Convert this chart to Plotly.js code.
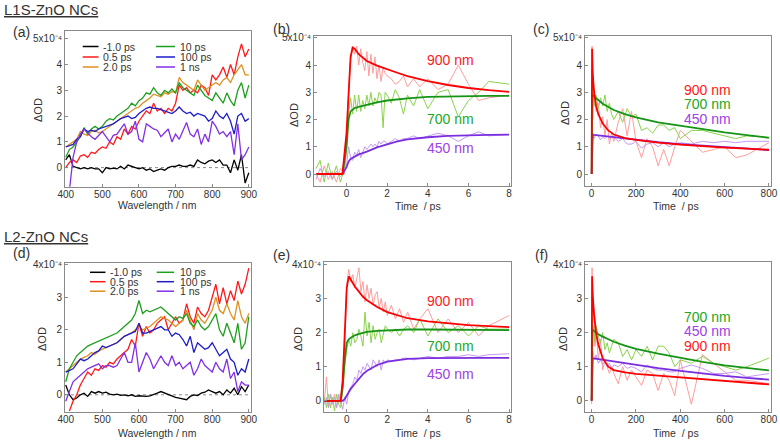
<!DOCTYPE html>
<html><head><meta charset="utf-8">
<script src="https://cdn.plot.ly/plotly-3.0.1.min.js"></script>
<style>html,body{margin:0;padding:0;background:#fff}#chart{width:780px;height:440px}</style>
</head><body><div id="chart"></div>
<script>
// ---------- DATA (ΔOD in units of 1e-4) ----------
const wavelengths = [400,410,420,430,440,450,460,470,480,490,500,510,520,530,540,550,560,570,580,590,600,610,620,630,640,650,660,670,680,690,700,710,720,730,740,750,760,770,780,790,800,810,820,830,840,850,860,870,880,890,900];
const delayLabels = ["-1.0 ps","0.5 ps","2.0 ps","10 ps","100 ps","1 ns"];

// (a) L1S-ZnO spectra
const a_m1ps  = [0.3,0.5,0.05,0.0,-0.05,0.0,-0.05,0.0,-0.05,-0.05,-0.2,0.0,-0.05,-0.02,-0.05,0.05,-0.05,0.1,0.05,0.0,-0.05,0.0,-0.1,-0.05,-0.15,-0.1,-0.05,-0.1,0.0,0.05,0.05,0.1,0.05,0.05,0.1,0.05,0.3,0.2,0.15,0.25,0.3,0.2,0.3,0.1,0.1,-0.2,0.3,-0.1,0.5,-0.6,-0.2];
const a_05ps  = [0.0,0.2,0.3,0.2,0.45,0.5,0.4,0.6,0.55,0.7,0.8,0.75,1.0,0.9,1.2,1.1,1.5,1.3,1.6,1.5,1.8,2.0,2.2,2.1,2.5,2.2,2.3,2.1,2.3,2.2,2.5,3.2,3.0,3.1,2.9,3.0,2.9,3.2,3.1,2.8,3.6,3.4,3.6,3.9,3.5,4.0,3.6,4.3,4.8,4.3,4.6];
const a_2ps   = [0.8,0.9,1.0,1.1,1.4,1.3,1.25,1.4,1.45,1.35,1.4,1.5,1.6,1.7,1.8,1.9,2.0,2.1,2.2,2.3,2.35,2.5,2.6,2.7,2.85,2.8,2.75,2.9,2.85,2.95,2.9,3.5,3.3,3.2,3.1,3.0,3.4,3.2,3.0,3.1,3.2,3.3,3.2,3.4,3.5,3.3,3.6,3.8,4.0,3.6,3.6];
const a_10ps  = [0.4,0.7,0.8,1.0,1.2,1.55,1.3,1.5,1.6,1.5,1.6,1.8,1.9,1.85,2.0,2.1,2.2,2.3,2.5,2.4,2.6,2.7,2.9,2.85,3.1,2.9,2.8,3.0,2.9,3.05,2.9,3.3,3.1,3.0,2.9,2.8,3.2,3.0,2.8,2.7,2.6,2.9,2.7,2.5,2.9,2.6,2.4,3.0,3.3,2.7,3.2];
const a_100ps = [0.8,0.85,0.9,1.1,1.2,1.5,1.4,1.45,1.4,1.5,1.55,1.6,1.65,1.7,1.8,1.9,1.95,2.0,1.9,1.95,2.1,2.2,2.3,2.35,2.3,2.3,2.25,2.2,2.15,2.1,2.2,2.35,2.2,2.1,2.15,2.0,2.1,2.05,2.0,1.8,1.9,2.2,2.0,1.9,2.1,1.8,1.3,2.0,2.1,1.8,1.9];
const a_1ns   = [null,-0.9,0.4,1.0,1.3,1.5,1.35,1.2,1.1,1.25,1.4,1.2,1.0,1.25,1.3,1.5,1.7,1.3,1.4,1.8,1.1,1.0,1.7,1.6,1.5,1.45,1.2,1.35,1.5,1.0,1.3,1.1,1.4,1.75,1.3,1.2,1.5,0.9,1.3,1.0,1.8,1.6,1.3,1.4,1.2,1.4,0.5,1.7,0.3,0.5,0.8];

// (d) L2-ZnO spectra
const d_m1ps  = [0.3,0.0,-0.15,-0.1,0.0,0.05,-0.05,0.1,0.05,0.1,0.05,0.08,0.02,0.0,0.02,-0.02,0.0,-0.03,0.0,-0.05,-0.03,-0.05,-0.05,-0.03,0.0,0.05,0.1,0.05,0.0,-0.05,-0.08,-0.1,-0.12,-0.15,-0.05,0.0,-0.02,0.05,0.08,0.15,0.1,0.05,0.1,0.0,0.15,0.05,0.2,0.0,0.25,0.1,0.3];
const d_05ps  = [null,-0.5,-0.2,0.0,0.3,0.5,0.7,0.6,0.8,0.75,0.9,0.85,1.0,0.95,1.1,1.2,1.3,1.4,1.7,1.5,2.2,1.8,2.1,1.9,2.0,2.2,2.3,2.4,2.0,2.2,2.4,2.2,2.3,2.8,2.4,2.2,2.7,2.5,2.4,2.6,3.0,3.4,2.8,3.3,2.8,3.2,2.9,3.5,3.1,3.4,3.9];
const d_2ps   = [0.7,0.8,0.9,1.0,1.1,1.15,1.2,1.3,1.25,1.35,1.4,1.45,1.5,1.55,1.6,1.7,1.8,1.85,1.9,2.0,2.1,2.0,2.05,2.1,2.2,2.3,2.4,2.35,2.3,2.2,2.1,2.2,2.3,2.6,2.3,2.0,2.5,2.3,2.2,2.4,2.6,3.0,2.6,2.5,2.8,2.5,2.3,2.9,2.4,2.2,2.5];
const d_10ps  = [0.4,0.8,1.0,1.2,1.3,1.4,1.5,1.55,1.6,1.65,1.7,1.75,1.8,1.85,1.9,2.0,2.1,2.2,2.3,2.5,2.9,2.5,2.6,2.55,2.6,2.65,2.7,2.6,2.5,2.4,2.3,2.4,2.35,2.5,2.2,2.1,2.3,2.1,2.0,2.1,2.3,2.5,2.0,1.8,2.2,1.9,1.6,2.2,1.4,1.6,2.4];
const d_100ps = [0.7,0.75,0.8,0.95,1.1,1.05,1.1,1.2,1.3,1.35,1.5,1.45,1.5,1.55,1.6,1.7,1.8,1.85,1.9,1.95,2.2,1.9,1.9,1.95,2.0,2.05,2.1,2.0,2.0,1.8,1.9,1.85,1.7,1.5,1.8,1.3,1.6,1.5,1.4,1.45,1.6,1.4,1.2,1.3,1.4,1.1,1.0,0.6,0.8,0.7,1.1];
const d_1ns   = [-0.2,0.1,0.4,0.5,0.6,0.7,0.8,0.85,0.9,0.95,0.8,0.9,0.9,0.85,0.9,1.1,1.3,1.0,1.0,1.6,0.7,1.0,1.3,1.1,0.8,1.0,1.2,1.0,0.9,1.2,0.9,1.0,0.8,0.9,1.0,0.6,0.8,1.1,0.9,0.8,0.7,1.0,0.8,0.7,1.1,0.5,0.7,0.1,0.4,0.3,0.3];

// (b) L1S short-time kinetics
const b_time = [-1.5,-1.3,-1.1,-0.9,-0.7,-0.5,-0.3,-0.1,0.0,0.1,0.2,0.3,0.4,0.5,0.6,0.7,0.8,0.9,1.0,1.1,1.2,1.3,1.4,1.5,1.6,1.7,1.8,1.9,2.0,2.2,2.4,2.6,2.8,3.0,3.3,3.6,4.0,4.5,5.0,5.5,6.0,6.5,7.0,8.0];
const b_900 = [0,-0.3,0.3,-0.2,0.1,-0.3,0.2,0.0,1.0,3.0,4.2,4.7,4.4,4.7,4.0,4.6,4.1,3.8,4.5,3.6,4.4,3.7,4.3,3.5,4.0,3.4,3.9,3.7,3.6,3.5,3.3,3.4,3.6,3.2,3.5,3.2,3.5,3.1,3.3,4.0,3.3,2.7,2.8,2.9];
const b_700 = [0.2,0.5,-0.3,0.4,-0.2,0.3,-0.3,0.2,1.0,2.2,2.8,2.2,2.9,2.3,2.9,2.3,2.7,2.4,2.9,2.5,3.0,2.5,2.8,2.6,3.0,2.9,1.7,3.0,2.9,2.6,3.1,2.8,2.2,2.9,2.5,3.1,2.4,3.0,3.1,2.1,2.7,3.0,3.4,3.3];
const b_450 = [-0.2,0.2,-0.1,0.1,-0.2,0.1,-0.1,0.1,0.3,1.0,0.6,0.5,0.8,0.7,0.9,0.6,0.8,1.0,0.9,1.0,1.1,1.0,1.1,1.0,1.2,1.1,1.2,1.2,1.1,1.2,1.3,1.2,1.3,1.3,1.4,1.3,1.4,1.5,1.4,1.2,1.4,1.55,1.4,1.45];
const b_fitTime = [-1.5,-0.5,-0.2,0,0.1,0.2,0.3,0.4,0.6,0.8,1.0,1.5,2,2.5,3,4,5,6,7,8];
const b_fit900 = [0,0,0,1.5,3.2,4.3,4.64,4.6,4.4,4.28,4.15,3.98,3.84,3.72,3.6,3.41,3.27,3.16,3.08,3.02];
const b_fit700 = [0,0,0,1.0,2.0,2.3,2.38,2.42,2.47,2.51,2.55,2.63,2.7,2.75,2.78,2.83,2.85,2.86,2.87,2.87];
const b_fit450 = [0,0,0,0.25,0.45,0.55,0.6,0.65,0.72,0.77,0.82,0.98,1.1,1.2,1.27,1.35,1.4,1.43,1.44,1.45];

// (c) L1S long-time kinetics
const c_time = [0,2,5,10,15,20,30,40,50,60,70,80,90,100,120,140,160,180,200,225,250,275,300,325,350,375,400,450,500,550,600,650,700,800];
const c_900 = [0,4.7,3.2,2.5,2.9,2.3,2.6,1.7,2.1,1.4,2.0,1.1,1.5,1.2,1.9,2.4,1.4,2.3,1.2,0.6,1.3,1.0,0.3,0.9,0.3,1.0,1.6,1.2,0.8,0.9,1.0,0.6,0.7,1.15];
const c_700 = [0,3.4,2.0,3.2,2.5,2.9,2.4,2.8,2.5,2.9,2.3,2.6,2.2,2.0,2.3,1.9,2.4,2.1,2.2,1.6,1.7,1.5,1.8,1.8,1.6,1.7,1.3,1.6,1.6,1.5,1.4,1.3,1.4,1.35];
const c_450 = [0,1.4,1.5,1.3,1.4,1.45,1.4,1.25,1.35,1.3,1.4,1.3,1.35,1.35,1.2,1.3,1.1,1.1,1.2,0.95,1.1,1.15,1.0,1.15,1.0,1.1,1.15,1.1,1.2,1.15,1.2,1.15,1.2,1.2];
const c_fitTime = [0,2,5,10,20,30,50,75,100,150,200,300,400,500,600,700,800];
const c_fit900 = [0,4.6,3.7,3.1,2.5,2.2,1.85,1.6,1.45,1.32,1.25,1.15,1.08,1.02,0.97,0.93,0.89];
const c_fit700 = [0,2.95,2.9,2.85,2.8,2.72,2.58,2.45,2.35,2.2,2.08,1.9,1.77,1.65,1.53,1.43,1.33];
const c_fit450 = [0,1.45,1.45,1.44,1.43,1.42,1.40,1.37,1.35,1.3,1.25,1.17,1.1,1.04,0.98,0.93,0.88];

// (e) L2 short-time kinetics
const e_time = [-1.1,-1.0,-0.9,-0.8,-0.7,-0.6,-0.5,-0.4,-0.3,-0.2,-0.1,0.0,0.1,0.2,0.3,0.4,0.5,0.6,0.7,0.8,0.9,1.0,1.1,1.2,1.3,1.4,1.5,1.6,1.7,1.8,1.9,2.0,2.2,2.4,2.6,2.8,3.0,3.3,3.6,4.0,4.5,5.0,5.5,6.0,6.5,7.0,8.0];
const e_900 = [0.0,0.7,-0.2,0.2,-0.1,0.2,-0.2,0.1,-0.1,0.4,1.5,3.4,3.85,3.5,3.7,3.3,3.6,3.9,3.2,3.5,2.9,3.4,3.0,3.3,2.8,3.1,3.2,2.7,3.0,2.6,2.9,2.5,2.8,2.4,2.7,2.3,2.6,2.1,2.4,2.7,2.0,2.4,2.0,2.3,1.9,2.2,2.5];
const e_700 = [0.1,-0.2,0.2,-0.2,0.1,-0.3,0.2,-0.1,-0.2,0.3,1.0,1.5,1.8,1.6,2.0,1.7,1.8,2.1,1.9,1.6,2.6,1.9,2.3,1.7,2.2,1.8,2.0,2.1,1.7,2.0,2.2,2.1,2.0,2.1,1.9,2.1,2.2,2.0,2.4,1.9,2.4,2.0,2.2,1.9,2.2,2.1,2.1];
const e_450 = [-0.1,0.1,-0.2,0.2,-0.1,0.1,-0.2,0.2,0.0,-0.25,0.1,-0.1,0.3,0.4,0.5,0.7,0.6,0.9,0.8,1.0,0.9,1.1,1.0,0.9,1.2,1.1,1.0,1.2,0.9,1.2,1.1,1.2,1.15,1.2,1.2,1.25,1.25,1.2,1.25,1.3,1.25,1.3,1.3,1.35,1.3,1.35,1.38];
const e_fitTime = [-1.1,-0.5,-0.3,-0.2,-0.1,0,0.1,0.2,0.4,0.6,0.8,1.0,1.5,2,2.5,3,4,5,6,7,8];
const e_fit900 = [0,0,0,0.6,2.0,3.3,3.65,3.55,3.35,3.2,3.05,2.95,2.75,2.6,2.5,2.42,2.33,2.27,2.22,2.19,2.16];
const e_fit700 = [0,0,0,0.4,1.2,1.7,1.8,1.85,1.92,1.96,2.0,2.02,2.05,2.07,2.08,2.09,2.09,2.09,2.09,2.08,2.07];
const e_fit450 = [0,0,0,0,0.05,0.15,0.25,0.35,0.5,0.65,0.78,0.88,1.05,1.15,1.2,1.23,1.25,1.26,1.26,1.26,1.26];

// (f) L2 long-time kinetics
const f_time = [0,2,5,10,15,20,30,40,50,60,70,80,90,100,120,140,160,180,200,225,250,275,300,325,350,375,400,450,500,550,600,650,700,800];
const f_900 = [-0.1,3.9,2.3,2.7,1.6,2.1,1.2,1.8,0.9,1.2,1.0,0.8,1.0,0.8,0.5,1.0,0.6,0.9,0.7,0.45,0.9,0.8,0.3,0.8,0.6,0.15,1.2,-0.1,1.35,1.1,0.85,0.6,0.6,0.5];
const f_700 = [0,2.5,1.6,2.2,1.7,2.2,1.9,1.7,2.0,1.5,1.7,1.4,1.6,1.8,1.7,1.3,1.5,1.2,1.5,1.3,1.6,1.2,1.6,1.6,1.4,1.0,1.2,1.1,1.3,1.1,1.0,0.9,1.0,1.25];
const f_450 = [0,1.2,1.45,1.3,1.2,1.35,1.1,1.2,1.05,1.15,1.0,1.1,0.95,1.05,1.0,1.1,0.95,1.0,0.95,0.85,1.05,0.95,0.9,0.9,0.85,0.85,0.95,1.05,0.95,0.8,0.8,0.85,0.7,0.8];
const f_fitTime = [0,2,5,10,20,30,50,75,100,150,200,300,400,500,600,700,800];
const f_fit900 = [0,3.65,3.1,2.6,2.0,1.65,1.25,1.0,0.9,0.83,0.79,0.74,0.69,0.64,0.58,0.53,0.48];
const f_fit700 = [0,2.1,2.08,2.05,2.0,1.95,1.88,1.8,1.73,1.62,1.52,1.38,1.25,1.14,1.04,0.96,0.89];
const f_fit450 = [0,1.25,1.25,1.24,1.23,1.22,1.2,1.17,1.15,1.1,1.05,0.96,0.88,0.8,0.73,0.67,0.62];

const probeLabels = ["900 nm","700 nm","450 nm"];
const yTicks5 = [0,1,2,3,4,5], yTickText5 = ["0","1","2","3","4","5x10⁻⁴"];
const yTicks4 = [0,1,2,3,4],   yTickText4 = ["0","1","2","3","4x10⁻⁴"];
const wlTicks = [400,500,600,700,800,900];
const psTicks = [0,2,4,6,8];
const longTicks = [0,200,400,600,800];

// ---------- STYLE ----------
const FONT = "'Liberation Sans', Arial, sans-serif";
const specColors = ["#000000","#ff1a1a","#de9024","#1f9f1f","#1c1cc8","#8230e6"];
const rawColors = {r:"#ff9c9c", g:"#8ad34c", p:"#c49af2"};
const fitColors = {r:"#ff0000", g:"#169416", p:"#7a2ee0"};
const lblColors = {r:"#ff1a1a", g:"#22a822", p:"#a040e6"};

const traces = [];
function line(x, y, color, width, ax, name) {
  traces.push({type:"scatter", mode:"lines", x:x, y:y, name:name||"", showlegend:false,
    line:{color:color, width:width}, xaxis:"x"+(ax===1?"":ax), yaxis:"y"+(ax===1?"":ax),
    connectgaps:false, hoverinfo:"skip"});
}
[a_m1ps,a_05ps,a_2ps,a_10ps,a_100ps,a_1ns].forEach((s,i)=>line(wavelengths,s,specColors[i],1.3,1,delayLabels[i]));
[d_m1ps,d_05ps,d_2ps,d_10ps,d_100ps,d_1ns].forEach((s,i)=>line(wavelengths,s,specColors[i],1.3,4,delayLabels[i]));
function kin(ax, t, r, g, p, tf, fr, fg, fp) {
  line(t, r, rawColors.r, 1, ax, "900 nm data");
  line(t, g, rawColors.g, 1, ax, "700 nm data");
  line(t, p, rawColors.p, 1, ax, "450 nm data");
  line(tf, fp, fitColors.p, 1.8, ax, "450 nm fit");
  line(tf, fg, fitColors.g, 1.8, ax, "700 nm fit");
  line(tf, fr, fitColors.r, 1.8, ax, "900 nm fit");
}
kin(2, b_time, b_900, b_700, b_450, b_fitTime, b_fit900, b_fit700, b_fit450);
kin(3, c_time, c_900, c_700, c_450, c_fitTime, c_fit900, c_fit700, c_fit450);
kin(5, e_time, e_900, e_700, e_450, e_fitTime, e_fit900, e_fit700, e_fit450);
kin(6, f_time, f_900, f_700, f_450, f_fitTime, f_fit900, f_fit700, f_fit450);

// ---------- LAYOUT ----------
const W = 780, H = 440;
const px = x => x / W, py = y => 1 - y / H;

function ax(domain, range, tickvals, ticktext, anchor, isX) {
  const o = {domain:domain, range:range, tickvals:tickvals, anchor:anchor,
    showline:true, linecolor:"#8a8a8a", linewidth:1, mirror:true,
    ticks:"inside", ticklen:3, tickcolor:"#8a8a8a", zeroline:false, showgrid:false,
    tickfont:{family:FONT, size:10, color:"#333"}, fixedrange:true};
  if (ticktext) o.ticktext = ticktext;
  if (isX) o.ticklabelstandoff = -2;
  return o;
}

const dA = [px(65), px(251)], dB = [px(314), px(510.7)], dC = [px(585), px(770.7)], dE = [px(324), px(510.7)];
const yTop1 = [py(186.7), py(31)], yTop2 = [py(185.7), py(36)];
const yBot1 = [py(411.7), py(262.5)], yBot2 = [py(411.7), py(262.3)];

const layout = {
  width:W, height:H, margin:{l:0,r:0,t:0,b:0}, paper_bgcolor:"#fff", plot_bgcolor:"#fff",
  showlegend:false, font:{family:FONT, color:"#333"},
  xaxis:  ax(dA, [398,906], wlTicks, null, "y", true),
  yaxis:  ax(yTop1, [-0.74,5.3], yTicks5, yTickText5, "x"),
  xaxis2: ax(dB, [-1.6,8.08], psTicks, null, "y2", true),
  yaxis2: ax(yTop2, [-0.43,5.07], yTicks5, yTickText5, "x2"),
  xaxis3: ax(dC, [-30,808], longTicks, null, "y3", true),
  yaxis3: ax(yTop2, [-0.43,5.07], yTicks5, yTickText5, "x3"),
  xaxis4: ax(dA, [398,906], wlTicks, null, "y4", true),
  yaxis4: ax(yBot1, [-0.52,4.07], yTicks4, yTickText4, "x4"),
  xaxis5: ax(dE, [-1.12,8.08], psTicks, null, "y5", true),
  yaxis5: ax(yBot2, [-0.32,4.06], yTicks4, yTickText4, "x5"),
  xaxis6: ax(dC, [-30,808], longTicks, null, "y6", true),
  yaxis6: ax(yBot2, [-0.32,4.06], yTicks4, yTickText4, "x6"),
  shapes:[], annotations:[]
};

[["x","y"],["x4","y4"]].forEach(([xa,ya])=>{
  layout.shapes.push({type:"line", xref:xa+" domain", yref:ya, x0:0, x1:1, y0:0, y1:0,
    line:{color:"#8a8a8a", width:1, dash:"dot"}, layer:"below"});
});

function ann(text, x, y, opts) {
  layout.annotations.push(Object.assign({text:text, x:px(x), y:py(y), xref:"paper", yref:"paper",
    showarrow:false, xanchor:"center", yanchor:"middle", borderpad:0,
    font:{family:FONT, size:10.5, color:"#333"}}, opts||{}));
}

ann("<u>L1S-ZnO NCs</u>", 3, 9.5, {xanchor:"left", font:{family:FONT, size:15, color:"#333"}});
ann("<u>L2-ZnO NCs</u>", 3, 236, {xanchor:"left", font:{family:FONT, size:15, color:"#333"}});
[["(a)",21,32.5],["(b)",281,28.5],["(c)",541,28.5],["(d)",21,253],["(e)",281.5,255],["(f)",541.5,255]]
  .forEach(([t,x,y])=>ann(t,x,y,{font:{family:FONT,size:14,color:"#333"}}));
[[38,110],[294,115],[565,113],[42,339],[298,339],[563,339]]
  .forEach(([x,y])=>ann("ΔOD",x,y,{textangle:-90, font:{family:FONT,size:11,color:"#333"}}));
[["Wavelength / nm",157,205],["Time  / ps",417.5,206],["Time  / ps",676,206],
 ["Wavelength / nm",157,432.5],["Time  / ps",417.5,432.5],["Time  / ps",676,432.5]]
  .forEach(([t,x,y])=>ann(t,x,y));

function legend(col1x, col2x, rows) {
  delayLabels.forEach((lbl,i)=>{
    const col = i < 3 ? col1x : col2x, y = rows[i % 3];
    layout.shapes.push({type:"line", xref:"paper", yref:"paper", x0:px(col[0]), x1:px(col[1]),
      y0:py(y), y1:py(y), line:{color:specColors[i], width:1.5}});
    ann(lbl, col[2], y, {xanchor:"left", font:{family:FONT, size:10.5, color:"#333"}});
  });
}
legend([82.7,98.5,102], [156,175,178.5], [46.5,57,67]);
legend([90,105.5,108.5], [156.7,174,179], [272.3,281.7,291.2]);

function probe(axn, xs, ys, cols) {
  probeLabels.forEach((t,i)=>layout.annotations.push({text:t, x:xs, y:ys[i],
    xref:"x"+axn, yref:"y"+axn, showarrow:false, xanchor:"center", yanchor:"middle", borderpad:0,
    font:{family:FONT, size:14, color:cols[i]}}));
}
const pc = [lblColors.r, lblColors.g, lblColors.p];
probe(2, 5.1, [4.18, 2.03, 0.97], pc);
probe(3, 522, [3.1, 2.56, 2.03], pc);
probe(5, 5.1, [2.93, 1.62, 0.78], pc);
probe(6, 522, [1.62, 2.47, 2.05], pc);

Plotly.newPlot("chart", traces, layout, {staticPlot:true, displayModeBar:false});
</script>
</body></html>
